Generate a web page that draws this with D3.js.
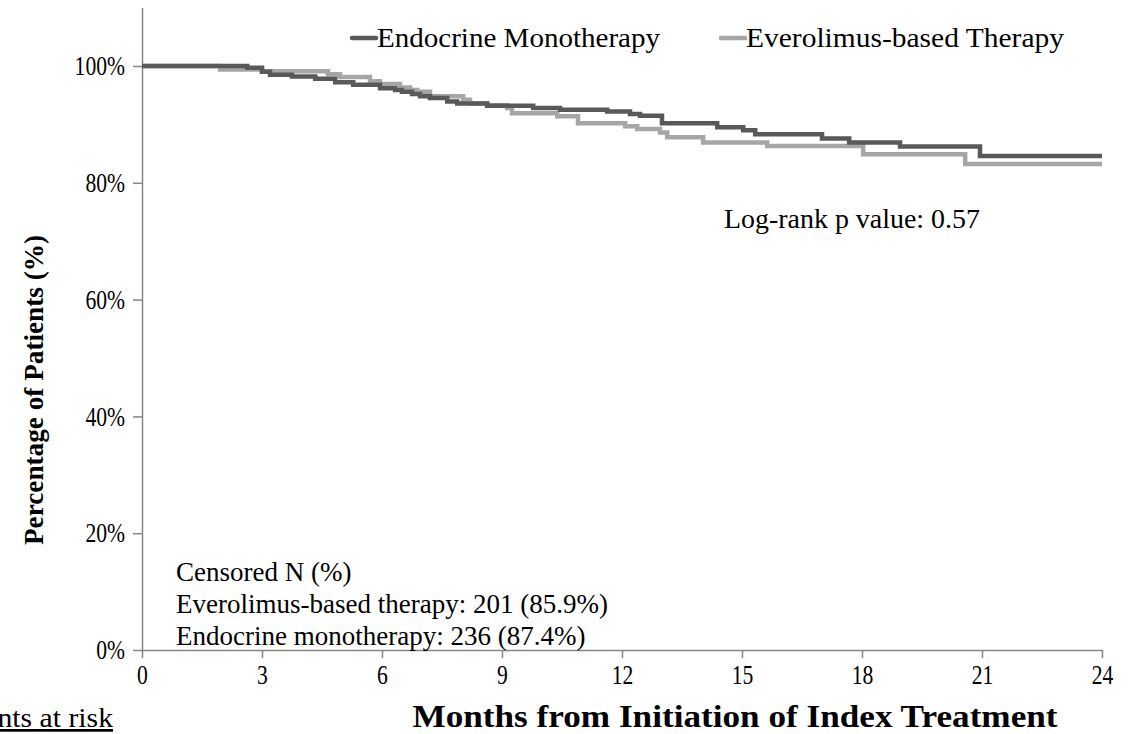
<!DOCTYPE html>
<html lang="en">
  <head>
    <meta charset="UTF-8" />
    <title>Time to discontinuation</title>
    <script src="https://d3js.org/d3.v7.min.js"></script>
    <style>
      body {
        margin: 0;
        background: white;
      }
      svg text {
        font-family: "Liberation Serif", "Times New Roman", serif;
        fill: black;
      }
      .axis path,
      .axis line {
        stroke: #868686;
        stroke-width: 1.5;
      }
    </style>
  </head>
  <body>
    <script>
      // Kaplan-Meier steps (months, % of patients)
      const endoMonths = [0, 2.63, 3.0, 3.2, 3.75, 4.33, 4.83, 5.28, 5.95, 6.33, 6.5, 6.75, 6.95, 7.2, 7.63, 7.88, 8.63, 9.78, 10.45, 11.63, 12.2, 12.45, 13.0, 14.38, 15.03, 15.33, 17.0, 17.68, 18.95, 20.95, 24];
      const endoPct = [100, 99.7, 99.0, 98.5, 98.2, 97.8, 97.2, 96.8, 96.2, 95.9, 95.6, 95.2, 94.8, 94.5, 93.9, 93.6, 93.2, 92.8, 92.5, 92.2, 91.8, 91.5, 90.2, 89.5, 89.0, 88.3, 87.6, 86.9, 86.2, 84.6, 84.6];

      const everoMonths = [0, 1.95, 3.0, 4.65, 4.95, 5.7, 5.95, 6.45, 6.7, 6.88, 7.2, 8.03, 8.2, 8.63, 9.13, 9.25, 10.38, 10.9, 12.08, 12.38, 12.95, 13.13, 14.03, 15.63, 18.03, 20.58, 24];
      const everoPct = [100, 99.4, 99.1, 98.6, 98.1, 97.4, 96.9, 96.3, 95.9, 95.6, 94.8, 94.2, 93.6, 93.3, 92.8, 91.9, 91.4, 90.2, 89.7, 89.2, 88.6, 87.8, 86.9, 86.3, 84.9, 83.2, 83.2];

      const xTicks = [0, 3, 6, 9, 12, 15, 18, 21, 24];
      const yTicks = [0, 20, 40, 60, 80, 100];

      const censoredLines = [
        "Censored N (%)",
        "Everolimus-based therapy: 201 (85.9%)",
        "Endocrine monotherapy: 236 (87.4%)"
      ];

      const width = 1132;
      const height = 734;
      const svg = d3
        .select("body")
        .append("svg")
        .attr("width", width)
        .attr("height", height);

      // squeeze / stretch a text to a given width, keeping its height
      function fitWidth(sel, w) {
        sel.attr("textLength", w).attr("lengthAdjust", "spacingAndGlyphs");
      }
      function squeeze(sel, k) {
        sel.each(function () {
          const w = this.getComputedTextLength();
          d3.select(this)
            .attr("textLength", w * k)
            .attr("lengthAdjust", "spacingAndGlyphs");
        });
      }

      const x = d3.scaleLinear().domain([0, 24]).range([142, 1102]);
      const y = d3.scaleLinear().domain([0, 110]).range([650, 7.6]);

      svg
        .append("g")
        .attr("class", "axis")
        .attr("transform", "translate(142,0)")
        .call(
          d3
            .axisLeft(y)
            .tickValues(yTicks)
            .tickSize(9)
            .tickSizeOuter(0)
            .tickPadding(8)
            .tickFormat((d) => d + "%")
        );

      svg
        .append("g")
        .attr("class", "axis")
        .attr("transform", "translate(0,650)")
        .call(
          d3
            .axisBottom(x)
            .tickValues(xTicks)
            .tickSize(8)
            .tickSizeOuter(0)
            .tickPadding(7)
        );

      const tickText = svg
        .selectAll(".axis .tick text")
        .attr("fill", "black")
        .style("font-family", '"Liberation Serif", serif')
        .style("font-size", "27px");
      squeeze(tickText, 0.8);

      const line = d3
        .line()
        .curve(d3.curveStepAfter)
        .x((d) => x(d[0]))
        .y((d) => y(d[1]));

      svg
        .append("path")
        .datum(d3.zip(everoMonths, everoPct))
        .attr("d", line)
        .attr("fill", "none")
        .attr("stroke", "#a6a6a6")
        .attr("stroke-width", 4.5);

      svg
        .append("path")
        .datum(d3.zip(endoMonths, endoPct))
        .attr("d", line)
        .attr("fill", "none")
        .attr("stroke", "#595959")
        .attr("stroke-width", 4.5);

      // legend
      const legend = [
        { name: "Endocrine Monotherapy", color: "#595959", x: 352, w: 283 },
        { name: "Everolimus-based Therapy", color: "#a6a6a6", x: 721, w: 318 }
      ];
      const lg = svg
        .selectAll(".legend")
        .data(legend)
        .enter()
        .append("g")
        .attr("transform", (d) => "translate(" + d.x + ",38)");
      lg.append("line")
        .attr("x1", 0)
        .attr("x2", 24)
        .attr("stroke", (d) => d.color)
        .attr("stroke-width", 4.5)
        .attr("stroke-linecap", "round");
      lg.append("text")
        .attr("x", 25)
        .attr("y", 9)
        .style("font-size", "28px")
        .attr("textLength", (d) => d.w)
        .attr("lengthAdjust", "spacingAndGlyphs")
        .text((d) => d.name);

      svg
        .append("text")
        .attr("x", 724)
        .attr("y", 228)
        .style("font-size", "27px")
        .call(fitWidth, 256)
        .text("Log-rank p value: 0.57");

      svg
        .selectAll(".cens")
        .data(censoredLines)
        .enter()
        .append("text")
        .attr("x", 176)
        .attr("y", (d, i) => 581 + i * 32)
        .style("font-size", "27px")
        .text((d) => d);

      svg
        .append("text")
        .attr("transform", "translate(43,390) rotate(-90)")
        .attr("text-anchor", "middle")
        .style("font-size", "27px")
        .style("font-weight", "bold")
        .call(fitWidth, 310)
        .text("Percentage of Patients (%)");

      svg
        .append("text")
        .attr("x", 735)
        .attr("y", 727)
        .attr("text-anchor", "middle")
        .style("font-size", "32px")
        .style("font-weight", "bold")
        .call(fitWidth, 645)
        .text("Months from Initiation of Index Treatment");

      const risk = svg
        .append("text")
        .attr("x", 113)
        .attr("y", 727)
        .attr("text-anchor", "end")
        .style("font-size", "27px")
        .style("text-decoration", "underline")
        .text("Patients at risk");
      squeeze(risk, 1.1);
    </script>
  </body>
</html>
